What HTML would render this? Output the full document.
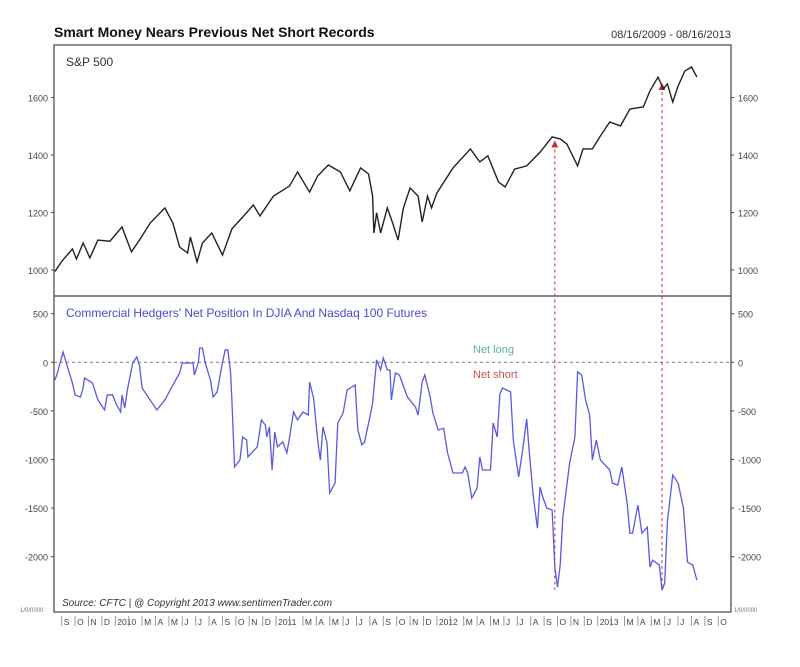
<!DOCTYPE html>
<html><head><meta charset="utf-8"><style>
body{margin:0;background:#fff;}
svg text{font-family:"Liberation Sans",sans-serif;}
</style></head><body>
<svg id="c" width="800" height="662" xmlns="http://www.w3.org/2000/svg">
<rect width="800" height="662" fill="#fff"/>
<text x="54" y="37" font-size="14" font-weight="bold" fill="#111">Smart Money Nears Previous Net Short Records</text>
<text x="731" y="38" font-size="11" fill="#333" text-anchor="end">08/16/2009 - 08/16/2013</text>
<rect x="54" y="45" width="677" height="567" fill="none" stroke="#444" stroke-width="1.2"/>
<line x1="54" y1="296" x2="731" y2="296" stroke="#444" stroke-width="1.2"/>
<text x="66" y="66" font-size="12" fill="#333">S&amp;P 500</text>
<text x="66" y="317" font-size="12" fill="#4a4ad0">Commercial Hedgers' Net Position In DJIA And Nasdaq 100 Futures</text>
<line x1="54" y1="362.3" x2="731" y2="362.3" stroke="#777" stroke-dasharray="3,3"/>
<text x="473" y="353" font-size="11" fill="#5cb88a">Net long</text>
<text x="473" y="378" font-size="11" fill="#c85050">Net short</text>
<text x="62" y="606" font-size="10" font-style="italic" fill="#333">Source:  CFTC  |   @ Copyright 2013   www.sentimenTrader.com</text>
<text x="20" y="612" font-size="6" fill="#777">1/0/0000</text>
<text x="734" y="612" font-size="6" fill="#777">1/0/0000</text>
<g id="g"></g>
</svg>
<script>
const spT=[0,0.5,1.3,1.6,2.1,2.6,3.2,4.1,5.0,5.7,6.3,7.1,8.2,8.8,9.3,9.9,10.1,10.6,11.0,11.7,12.5,13.2,14.0,14.8,15.3,16.3,17.5,18.1,19.0,19.6,20.4,21.3,22.0,22.8,23.4,23.7,23.8,24.0,24.3,24.8,25.2,25.6,26.0,26.5,27.1,27.4,27.8,28.1,28.5,29.7,31.0,31.7,32.3,33.1,33.6,34.3,35.2,36.2,37.1,37.7,38.2,39.0,39.4,40.1,40.7,41.4,42.2,42.9,43.9,44.4,45.0,45.4,45.7,46.1,46.5,47.0,47.5,47.9];
const spV=[995,1030,1073,1038,1094,1042,1104,1100,1150,1063,1104,1163,1216,1163,1080,1059,1115,1028,1094,1129,1052,1143,1184,1226,1188,1257,1292,1341,1271,1327,1365,1341,1275,1355,1334,1257,1129,1199,1129,1216,1163,1104,1216,1285,1257,1167,1257,1216,1268,1355,1421,1376,1397,1306,1289,1351,1362,1410,1463,1456,1438,1362,1421,1421,1466,1515,1501,1560,1567,1623,1671,1630,1647,1584,1640,1692,1706,1671];
const hT=[0,0.2,0.6,1.0,1.3,1.5,1.9,2.1,2.2,2.8,3.2,3.7,3.9,4.3,4.6,4.9,5.0,5.2,5.4,5.8,6.1,6.3,6.5,7.6,8.2,8.8,9.3,9.5,10.3,10.4,10.7,10.8,11.0,11.2,11.6,11.8,12.1,12.5,12.7,12.9,13.1,13.2,13.4,13.8,14.0,14.3,14.4,15.1,15.4,15.7,15.8,16.0,16.2,16.4,16.6,17.0,17.3,17.5,17.8,18.1,18.5,18.9,19.0,19.3,19.6,19.8,20.0,20.3,20.5,20.9,21.1,21.5,21.8,22.4,22.6,22.9,23.1,23.5,23.7,24.0,24.3,24.5,24.8,25.0,25.1,25.4,25.7,26.3,26.9,27.1,27.4,27.6,28.0,28.2,28.6,29.0,29.3,29.7,30.4,30.6,30.8,31.1,31.5,31.7,31.9,32.5,32.7,33.0,33.2,33.4,34.0,34.2,34.6,34.9,35.2,35.4,35.7,36.0,36.2,36.4,36.7,37.1,37.3,37.5,37.7,37.9,38.4,38.8,39.0,39.3,39.6,39.9,40.1,40.4,40.7,41.4,41.6,42.0,42.3,42.7,42.9,43.1,43.5,43.8,44.2,44.4,44.6,45.1,45.3,45.5,45.7,46.1,46.5,46.9,47.2,47.6,47.9];
const hV=[-182,-99,106,-79,-213,-336,-357,-264,-161,-213,-388,-490,-336,-336,-439,-511,-336,-470,-285,-7,55,-28,-264,-490,-388,-233,-110,-7,-7,-130,0,147,147,0,-182,-357,-305,0,127,127,-99,-388,-1077,-1005,-768,-799,-973,-870,-593,-645,-768,-665,-1108,-716,-870,-819,-933,-778,-511,-593,-511,-542,-203,-370,-799,-1005,-665,-830,-1345,-1243,-624,-521,-285,-233,-696,-850,-819,-562,-419,24,-79,44,-79,-79,-388,-110,-130,-357,-460,-542,-203,-130,-357,-521,-696,-679,-933,-1139,-1139,-1077,-1139,-1397,-1294,-973,-1108,-1108,-624,-768,-326,-264,-305,-799,-1180,-902,-583,-933,-1386,-1707,-1284,-1386,-1500,-1520,-2107,-2313,-2086,-1592,-1040,-768,-99,-130,-388,-542,-1005,-799,-1005,-1108,-1243,-1264,-1077,-1449,-1759,-1759,-1469,-1759,-1696,-2107,-2035,-2086,-2344,-2272,-1640,-1160,-1243,-1500,-2055,-2086,-2241];
const spTicks=[1000,1200,1400,1600];
const hTicks=[500,0,-500,-1000,-1500,-2000];
const monthLabels=["A","S","O","N","D","2010","","M","A","M","J","J","A","S","O","N","D","2011","","M","A","M","J","J","A","S","O","N","D","2012","","M","A","M","J","J","A","S","O","N","D","2013","","M","A","M","J","J","A","S","O"];
const markerT=[37.3,45.3];
const markerV=[1440,1640];

const xs=t=>55+t*13.4;
const ys=v=>270-(v-1000)/200*57.5;
const yh=v=>362.3-v/500*48.6;
const NS="http://www.w3.org/2000/svg";
const g=document.getElementById('g');
function mk(tag,a){const e=document.createElementNS(NS,tag);for(const k in a)e.setAttribute(k,a[k]);g.appendChild(e);return e;}

spTicks.forEach(v=>{const y=ys(v);
 const t1=mk('text',{x:48,y:y+4,'font-size':9,fill:'#444','text-anchor':'end'});t1.textContent=v;
 
 
 const t2=mk('text',{x:738,y:y+4,'font-size':9,fill:'#444'});t2.textContent=v;
 
 
 mk('line',{x1:51,x2:54,y1:y,y2:y,stroke:'#444'});mk('line',{x1:731,x2:734,y1:y,y2:y,stroke:'#444'});});
hTicks.forEach(v=>{const y=yh(v);
 const t1=mk('text',{x:48,y:y+4,'font-size':9,fill:'#444','text-anchor':'end'});t1.textContent=v;
 
 
 const t2=mk('text',{x:738,y:y+4,'font-size':9,fill:'#444'});t2.textContent=v;
 
 
 mk('line',{x1:51,x2:54,y1:y,y2:y,stroke:'#444'});mk('line',{x1:731,x2:734,y1:y,y2:y,stroke:'#444'});});

monthLabels.forEach((m,i)=>{const x=xs(i-0.5);
 if(x<50||x>725)return;
 mk('line',{x1:x,x2:x,y1:616,y2:626,stroke:'#999'});
 if(!m)return;
 const t=mk('text',{x:x+2,y:625,'font-size':8.5,fill:'#444'});t.textContent=m;
 
 });

markerT.forEach((t,i)=>{const x=xs(t),y=ys(markerV[i]);
 const l=mk('line',{x1:x,x2:x,y1:y,y2:590,stroke:'#c83030','stroke-dasharray':'3,3'});
 
 
 const p=mk('path',{d:`M${x-3.5},${y+4}L${x+3.5},${y+4}L${x},${y-3}Z`,fill:'#c03030'});
 
 });

const sp=mk('polyline',{points:spT.map((t,i)=>xs(t)+','+ys(spV[i])).join(' '),fill:'none',stroke:'#222','stroke-width':1.4});


const hl=mk('polyline',{points:hT.map((t,i)=>xs(t)+','+yh(hV[i])).join(' '),fill:'none',stroke:'#5a5ae0','stroke-width':1.3});


</script>
</body></html>
